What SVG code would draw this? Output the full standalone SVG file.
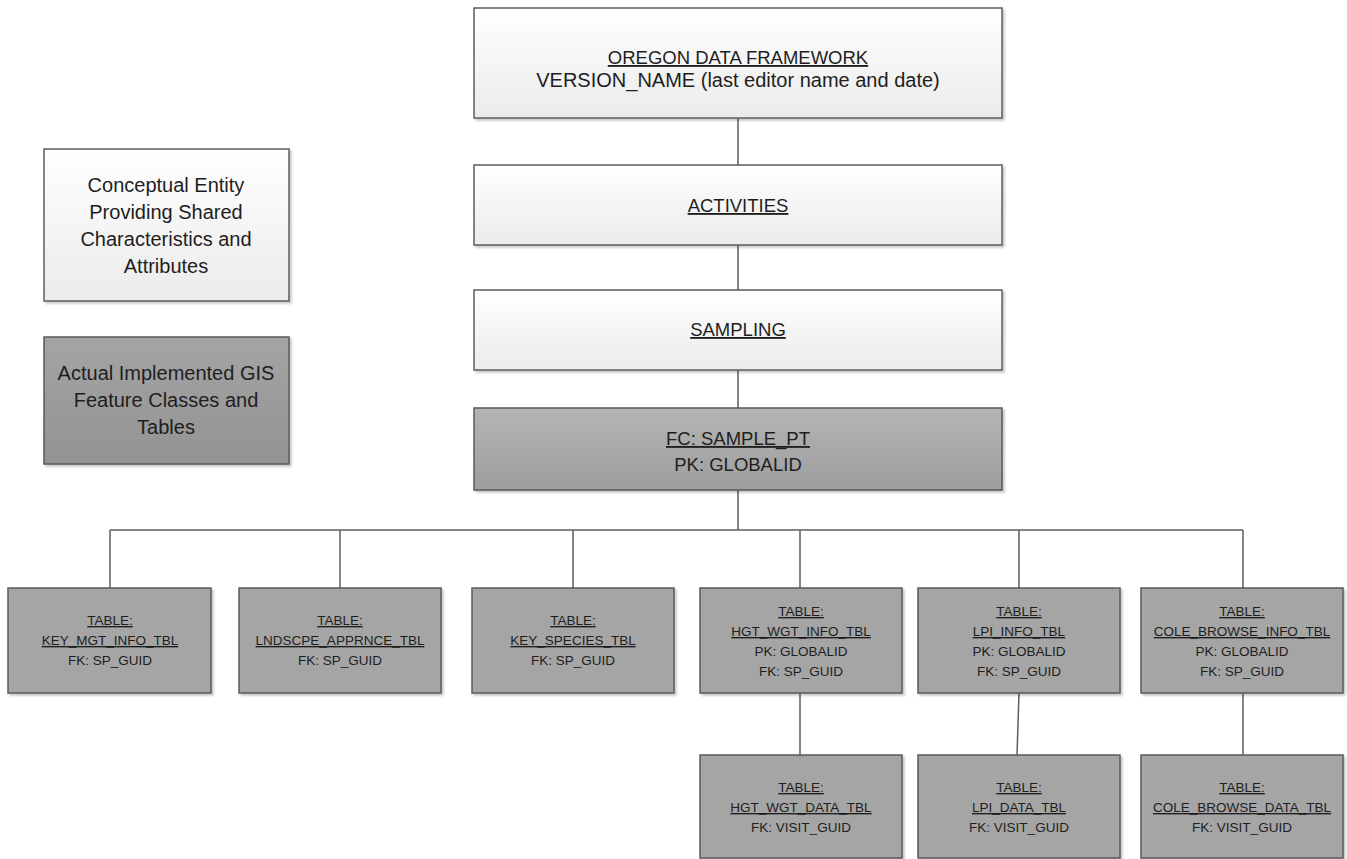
<svg xmlns="http://www.w3.org/2000/svg" width="1347" height="859" viewBox="0 0 1347 859">
<defs>
<linearGradient id="gw" x1="0" y1="0" x2="0" y2="1">
<stop offset="0" stop-color="#ffffff"/>
<stop offset="1" stop-color="#ebebeb"/>
</linearGradient>
<linearGradient id="gg" x1="0" y1="0" x2="0" y2="1">
<stop offset="0" stop-color="#b4b4b4"/>
<stop offset="1" stop-color="#9e9e9e"/>
</linearGradient>
<linearGradient id="gl" x1="0" y1="0" x2="0" y2="1">
<stop offset="0" stop-color="#a4a4a4"/>
<stop offset="1" stop-color="#939393"/>
</linearGradient>
<filter id="sh" x="-5%" y="-5%" width="115%" height="120%">
<feDropShadow dx="2" dy="2" stdDeviation="1" flood-color="#000" flood-opacity="0.22"/>
</filter>
</defs>
<style>
.w{fill:url(#gw);stroke:#5e5e5e;stroke-width:1.5;filter:url(#sh)}
.g{fill:url(#gg);stroke:#5a5a5a;stroke-width:1.5;filter:url(#sh)}
.t{fill:#a5a5a5;stroke:#5a5a5a;stroke-width:1.5;filter:url(#sh)}
.lg{fill:url(#gl);stroke:#5a5a5a;stroke-width:1.5;filter:url(#sh)}
text{font-family:"Liberation Sans",Arial,sans-serif;fill:#1e1e1e;text-anchor:middle}
.u{text-decoration:underline}
.big{font-size:18.5px}
.leg{font-size:20px}
.sm{font-size:13.5px}
.c line{stroke:#5e5e5e;stroke-width:1.5;fill:none}
</style>
<rect width="1347" height="859" fill="#ffffff"/>

<g class="c" id="connectors">
<line x1="738" y1="118" x2="738" y2="165"/>
<line x1="738" y1="245" x2="738" y2="290"/>
<line x1="738" y1="370" x2="738" y2="408"/>
<line x1="738" y1="490" x2="738" y2="530"/>
<line x1="110" y1="530" x2="1243" y2="530"/>
<line x1="110" y1="530" x2="110" y2="588"/>
<line x1="340" y1="530" x2="340" y2="588"/>
<line x1="573" y1="530" x2="573" y2="588"/>
<line x1="800" y1="530" x2="800" y2="588"/>
<line x1="1019" y1="530" x2="1019" y2="588"/>
<line x1="1243" y1="530" x2="1243" y2="588"/>
<line x1="800" y1="693" x2="800" y2="755"/>
<line x1="1019" y1="693" x2="1017" y2="755"/>
<line x1="1243" y1="693" x2="1243" y2="755"/>
</g>

<g id="legend-conceptual">
<rect class="w" x="44" y="149" width="245" height="152"/>
<text class="leg" x="166" y="192">Conceptual Entity</text>
<text class="leg" x="166" y="219">Providing Shared</text>
<text class="leg" x="166" y="246">Characteristics and</text>
<text class="leg" x="166" y="273">Attributes</text>
</g>

<g id="legend-implemented">
<rect class="lg" x="44" y="337" width="245" height="127"/>
<text class="leg" x="166" y="380">Actual Implemented GIS</text>
<text class="leg" x="166" y="407">Feature Classes and</text>
<text class="leg" x="166" y="434">Tables</text>
</g>

<g id="oregon">
<rect class="w" x="474" y="8" width="528" height="110"/>
<text class="big u" x="738" y="64">OREGON DATA FRAMEWORK</text>
<text x="738" y="87" style="font-size:20px">VERSION_NAME (last editor name and date)</text>
</g>

<g id="activities">
<rect class="w" x="474" y="165" width="528" height="80"/>
<text class="big u" x="738" y="212">ACTIVITIES</text>
</g>

<g id="sampling">
<rect class="w" x="474" y="290" width="528" height="80"/>
<text class="big u" x="738" y="336">SAMPLING</text>
</g>

<g id="sample-pt">
<rect class="g" x="474" y="408" width="528" height="82"/>
<text class="big u" x="738" y="445">FC: SAMPLE_PT</text>
<text class="big" x="738" y="471">PK: GLOBALID</text>
</g>

<g id="key-mgt">
<rect class="t" x="8" y="588" width="203" height="105"/>
<text class="sm u" x="110" y="625">TABLE:</text>
<text class="sm u" x="110" y="645">KEY_MGT_INFO_TBL</text>
<text class="sm" x="110" y="665">FK: SP_GUID</text>
</g>

<g id="lndscpe">
<rect class="t" x="239" y="588" width="202" height="105"/>
<text class="sm u" x="340" y="625">TABLE:</text>
<text class="sm u" x="340" y="645">LNDSCPE_APPRNCE_TBL</text>
<text class="sm" x="340" y="665">FK: SP_GUID</text>
</g>

<g id="key-species">
<rect class="t" x="472" y="588" width="202" height="105"/>
<text class="sm u" x="573" y="625">TABLE:</text>
<text class="sm u" x="573" y="645">KEY_SPECIES_TBL</text>
<text class="sm" x="573" y="665">FK: SP_GUID</text>
</g>

<g id="hgt-wgt-info">
<rect class="t" x="700" y="588" width="202" height="105"/>
<text class="sm u" x="801" y="616">TABLE:</text>
<text class="sm u" x="801" y="636">HGT_WGT_INFO_TBL</text>
<text class="sm" x="801" y="656">PK: GLOBALID</text>
<text class="sm" x="801" y="676">FK: SP_GUID</text>
</g>

<g id="lpi-info">
<rect class="t" x="918" y="588" width="202" height="105"/>
<text class="sm u" x="1019" y="616">TABLE:</text>
<text class="sm u" x="1019" y="636">LPI_INFO_TBL</text>
<text class="sm" x="1019" y="656">PK: GLOBALID</text>
<text class="sm" x="1019" y="676">FK: SP_GUID</text>
</g>

<g id="cole-browse-info">
<rect class="t" x="1141" y="588" width="202" height="105"/>
<text class="sm u" x="1242" y="616">TABLE:</text>
<text class="sm u" x="1242" y="636">COLE_BROWSE_INFO_TBL</text>
<text class="sm" x="1242" y="656">PK: GLOBALID</text>
<text class="sm" x="1242" y="676">FK: SP_GUID</text>
</g>

<g id="hgt-wgt-data">
<rect class="t" x="700" y="755" width="202" height="103"/>
<text class="sm u" x="801" y="792">TABLE:</text>
<text class="sm u" x="801" y="812">HGT_WGT_DATA_TBL</text>
<text class="sm" x="801" y="832">FK: VISIT_GUID</text>
</g>

<g id="lpi-data">
<rect class="t" x="918" y="755" width="202" height="103"/>
<text class="sm u" x="1019" y="792">TABLE:</text>
<text class="sm u" x="1019" y="812">LPI_DATA_TBL</text>
<text class="sm" x="1019" y="832">FK: VISIT_GUID</text>
</g>

<g id="cole-browse-data">
<rect class="t" x="1141" y="755" width="202" height="103"/>
<text class="sm u" x="1242" y="792">TABLE:</text>
<text class="sm u" x="1242" y="812">COLE_BROWSE_DATA_TBL</text>
<text class="sm" x="1242" y="832">FK: VISIT_GUID</text>
</g>
</svg>
